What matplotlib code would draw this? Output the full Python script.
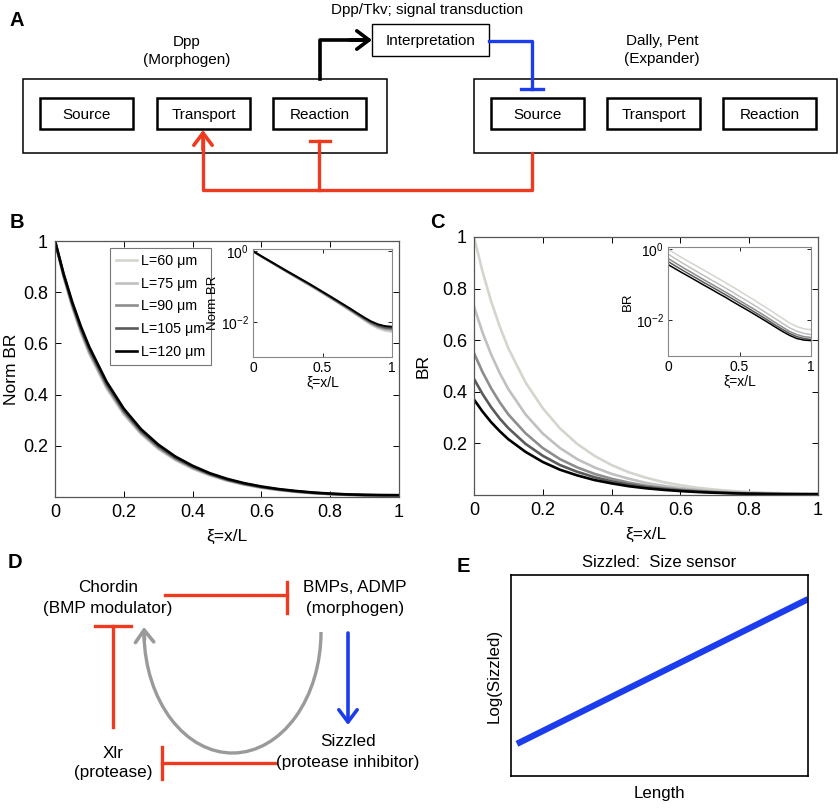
import matplotlib
matplotlib.use('Agg')
import matplotlib.pyplot as plt
from matplotlib.patches import Rectangle, Arc
from matplotlib.ticker import NullLocator

plt.rcParams['font.family'] = ['Liberation Sans', 'DejaVu Sans']
plt.rcParams['mathtext.fontset'] = 'custom'
plt.rcParams['mathtext.rm'] = 'Liberation Sans'
plt.rcParams['mathtext.it'] = 'Liberation Sans:italic'

# ---- data ----
xi = [0, 0.025, 0.05, 0.075, 0.1, 0.15, 0.2, 0.25, 0.3, 0.35, 0.4, 0.45, 0.5,
      0.55, 0.6, 0.65, 0.7, 0.75, 0.8, 0.85, 0.9, 0.95, 1.0]
lengths = [60, 75, 90, 105, 120]

# B: normalised BR
norm_br_60 = [1.0, 0.860, 0.742, 0.642, 0.558, 0.424, 0.322, 0.246, 0.188, 0.144, 0.110, 0.084, 0.064,
              0.048, 0.036, 0.027, 0.020, 0.0148, 0.0110, 0.0081, 0.0064, 0.0055, 0.0051]
norm_br_75 = [1.0, 0.862, 0.745, 0.646, 0.562, 0.428, 0.326, 0.249, 0.190, 0.146, 0.112, 0.086, 0.065,
              0.049, 0.037, 0.0278, 0.0207, 0.0153, 0.0114, 0.0085, 0.0068, 0.0059, 0.0055]
norm_br_90 = [1.0, 0.865, 0.750, 0.652, 0.568, 0.434, 0.331, 0.253, 0.194, 0.149, 0.115, 0.088, 0.066,
              0.050, 0.038, 0.0285, 0.0213, 0.0158, 0.0118, 0.0089, 0.0072, 0.0063, 0.0060]
norm_br_105 = [1.0, 0.868, 0.755, 0.658, 0.575, 0.441, 0.337, 0.258, 0.199, 0.153, 0.118, 0.090, 0.068,
               0.052, 0.039, 0.0295, 0.0222, 0.0165, 0.0124, 0.0095, 0.0077, 0.0068, 0.0065]
norm_br_120 = [1.0, 0.872, 0.762, 0.667, 0.585, 0.450, 0.345, 0.265, 0.205, 0.158, 0.122, 0.093, 0.071,
               0.054, 0.041, 0.031, 0.0235, 0.0175, 0.0132, 0.0102, 0.0084, 0.0075, 0.0072]

# C: BR
br_60 = [1.0, 0.865, 0.750, 0.652, 0.568, 0.436, 0.336, 0.258, 0.198, 0.152, 0.116, 0.088, 0.067,
         0.050, 0.038, 0.028, 0.021, 0.0155, 0.0115, 0.0085, 0.0067, 0.0058, 0.0055]
br_75 = [0.73, 0.629, 0.544, 0.472, 0.410, 0.312, 0.238, 0.182, 0.139, 0.107, 0.082, 0.063, 0.047,
         0.036, 0.027, 0.0203, 0.0151, 0.0112, 0.0083, 0.0062, 0.0050, 0.0043, 0.0040]
br_90 = [0.55, 0.476, 0.413, 0.359, 0.312, 0.239, 0.182, 0.139, 0.107, 0.082, 0.063, 0.048, 0.036,
         0.0275, 0.0209, 0.0157, 0.0117, 0.0087, 0.0065, 0.0049, 0.0040, 0.0035, 0.0033]
br_105 = [0.45, 0.391, 0.340, 0.296, 0.259, 0.198, 0.152, 0.116, 0.090, 0.069, 0.053, 0.0405, 0.0306,
          0.0234, 0.0176, 0.0133, 0.0100, 0.0074, 0.0056, 0.0043, 0.0035, 0.0031, 0.0029]
br_120 = [0.37, 0.323, 0.282, 0.247, 0.216, 0.167, 0.128, 0.098, 0.076, 0.058, 0.045, 0.034, 0.026,
          0.020, 0.0152, 0.0115, 0.0087, 0.0065, 0.0049, 0.0038, 0.0031, 0.0028, 0.0027]

# E: schematic line
e_length = [0.02, 1.0]
e_log_sizzled = [0.16, 0.88]

box_labels = ['Source', 'Transport', 'Reaction']

norm_sets = [norm_br_60, norm_br_75, norm_br_90, norm_br_105, norm_br_120]
br_sets = [br_60, br_75, br_90, br_105, br_120]
line_colors = ['#d4d6cd', '#c0c0c0', '#8d8d8d', '#5a5a5a', '#000000']

RED = '#ee3a1e'
BLUE = '#1c3ded'
GRAY = '#9a9a9a'

W, H = 840, 808


def rect(x0, y0, x1, y1):
    return [x0 / W, 1 - y1 / H, (x1 - x0) / W, (y1 - y0) / H]


fig = plt.figure(figsize=(W / 100, H / 100), dpi=100)

# pixel-space canvas for the diagrams
ax0 = fig.add_axes([0, 0, 1, 1])
ax0.set_xlim(0, W)
ax0.set_ylim(H, 0)
ax0.axis('off')

for lab, x, y in [('A', 17, 21), ('B', 17, 222), ('C', 437, 223), ('D', 15, 563), ('E', 463, 566)]:
    ax0.text(x, y, lab, fontsize=14.5, fontweight='bold', ha='center', va='center')

# ---- panel A ----
for x0, x1 in [(23, 387), (474, 837)]:
    ax0.add_patch(Rectangle((x0, 79), x1 - x0, 74, fill=False, lw=1.1, ec='k'))
for lefts in [(40, 157, 273), (491, 607, 723)]:
    for x, lab in zip(lefts, box_labels):
        ax0.add_patch(Rectangle((x, 98), 93, 31, fill=False, lw=1.8, ec='k'))
        ax0.text(x + 46.5, 115, lab, fontsize=11, ha='center', va='center')

ax0.add_patch(Rectangle((372, 24), 117, 32, fill=False, lw=1.0, ec='k'))
ax0.text(430.5, 41, 'Interpretation', fontsize=11, ha='center', va='center')
ax0.text(427, 10, 'Dpp/Tkv; signal transduction', fontsize=11, ha='center', va='center')
ax0.text(187, 42, 'Dpp', fontsize=11, ha='center', va='center')
ax0.text(187, 60, '(Morphogen)', fontsize=11, ha='center', va='center')
ax0.text(662, 41, 'Dally, Pent', fontsize=11, ha='center', va='center')
ax0.text(662, 59, '(Expander)', fontsize=11, ha='center', va='center')

arr = dict(lw=2.6, shrinkA=0, shrinkB=0, mutation_scale=22)
ax0.plot([320, 320, 366], [79, 40, 40], color='k', lw=2.6)
ax0.annotate('', xy=(372, 40), xytext=(350, 40),
             arrowprops=dict(arrowstyle='->,head_length=0.4,head_width=0.3', color='k', **arr))

ax0.plot([489, 532, 532], [41, 41, 89], color=BLUE, lw=2.4)
ax0.plot([521, 543], [89, 89], color=BLUE, lw=2.4)

ax0.plot([532, 532, 203, 203], [153, 190, 190, 140], color=RED, lw=2.4)
ax0.annotate('', xy=(203, 130), xytext=(203, 150),
             arrowprops=dict(arrowstyle='->,head_length=0.4,head_width=0.3', color=RED, **arr))
ax0.plot([319, 319], [190, 141], color=RED, lw=2.4)
ax0.plot([310, 330], [141, 141], color=RED, lw=2.4)

# ---- panel D ----
fs_d = 12.3
ax0.text(108, 588, 'Chordin', fontsize=fs_d, ha='center', va='center')
ax0.text(108, 608, '(BMP modulator)', fontsize=fs_d, ha='center', va='center')
ax0.text(355, 588, 'BMPs, ADMP', fontsize=fs_d, ha='center', va='center')
ax0.text(355, 608, '(morphogen)', fontsize=fs_d, ha='center', va='center')
ax0.text(113, 753, 'Xlr', fontsize=fs_d, ha='center', va='center')
ax0.text(113, 773, '(protease)', fontsize=fs_d, ha='center', va='center')
ax0.text(348, 742, 'Sizzled', fontsize=fs_d, ha='center', va='center')
ax0.text(348, 762, '(protease inhibitor)', fontsize=fs_d, ha='center', va='center')

ax0.plot([165, 287], [595, 595], color=RED, lw=2.4)
ax0.plot([287, 287], [582, 613], color=RED, lw=2.4)
ax0.plot([113, 113], [727, 626], color=RED, lw=2.4)
ax0.plot([95, 131], [626, 626], color=RED, lw=2.4)
ax0.plot([276, 162], [763, 763], color=RED, lw=2.4)
ax0.plot([162, 162], [747, 779], color=RED, lw=2.4)

ax0.annotate('', xy=(348, 725), xytext=(348, 633),
             arrowprops=dict(arrowstyle='->,head_length=0.4,head_width=0.3', color=BLUE, **arr))

ax0.add_patch(Arc((232.5, 632), 177, 242, theta1=0, theta2=178, color=GRAY, lw=2.4))
ax0.annotate('', xy=(144, 627), xytext=(144.5, 640),
             arrowprops=dict(arrowstyle='->,head_length=0.4,head_width=0.3', color=GRAY, **arr))


# ---- panels B and C ----
def style_main(ax):
    ax.set_xlim(0, 1)
    ax.set_ylim(0, 1)
    ax.set_xticks([0, 0.2, 0.4, 0.6, 0.8, 1])
    ax.set_xticklabels(['0', '0.2', '0.4', '0.6', '0.8', '1'])
    ax.set_yticks([0.2, 0.4, 0.6, 0.8, 1])
    ax.set_yticklabels(['0.2', '0.4', '0.6', '0.8', '1'])
    ax.tick_params(direction='in', top=True, right=True, labelsize=13, length=4, width=0.7, pad=5)
    for s in ax.spines.values():
        s.set_color('#555555')
        s.set_linewidth(0.9)
    ax.set_xlabel('ξ=x/L', fontsize=12.5, labelpad=6)


def style_inset(ax, ylab):
    ax.set_yscale('log')
    ax.set_xlim(0, 1)
    ax.set_ylim(1e-3, 1.15)
    ax.set_yticks([1e-2, 1])
    ax.yaxis.set_minor_locator(NullLocator())
    ax.set_xticks([0, 0.5, 1])
    ax.set_xticklabels(['0', '0.5', '1'])
    ax.tick_params(direction='in', top=True, right=True, labelsize=10, length=3, width=0.6, pad=3)
    for s in ax.spines.values():
        s.set_color('#888888')
        s.set_linewidth(0.8)
    ax.set_xlabel('ξ=x/L', fontsize=10, labelpad=0)
    ax.set_ylabel(ylab, fontsize=9.5, labelpad=1)


axB = fig.add_axes(rect(55, 241, 399, 497))
for L, vals, c in zip(lengths, norm_sets, line_colors):
    axB.plot(xi, vals, color=c, lw=1.9, label=f'L={L} μm')
style_main(axB)
axB.set_ylabel('Norm BR', fontsize=12.5, labelpad=3)
leg = axB.legend(loc='upper left', bbox_to_anchor=(110 / W, 1 - 248 / H), bbox_transform=fig.transFigure,
                 borderaxespad=0, fontsize=10.3, handlelength=1.5, handletextpad=0.3,
                 labelspacing=0.62, borderpad=0.4, fancybox=False, framealpha=1)
leg.get_frame().set_edgecolor('#777777')
leg.get_frame().set_linewidth(0.8)

axBi = fig.add_axes(rect(253, 249, 392, 357))
for vals, c in zip(norm_sets, line_colors):
    axBi.plot(xi, vals, color=c, lw=1.4)
style_inset(axBi, 'Norm BR')

axC = fig.add_axes(rect(474, 237, 818, 495))
for vals, c in zip(br_sets, line_colors):
    axC.plot(xi, vals, color=c, lw=1.9)
style_main(axC)
axC.set_ylabel('BR', fontsize=12.5, labelpad=8)

axCi = fig.add_axes(rect(668, 247, 811, 356))
for vals, c in zip(br_sets, line_colors):
    axCi.plot(xi, vals, color=c, lw=1.1)
style_inset(axCi, 'BR')

# ---- panel E ----
axE = fig.add_axes(rect(511, 575, 808, 776))
axE.plot(e_length, e_log_sizzled, color=BLUE, lw=4.5, solid_capstyle='butt')
axE.set_xlim(0, 1)
axE.set_ylim(0, 1)
axE.set_xticks([])
axE.set_yticks([])
for s in axE.spines.values():
    s.set_linewidth(1.2)
axE.set_title('Sizzled:  Size sensor', fontsize=12, pad=6)
axE.set_xlabel('Length', fontsize=12.2, labelpad=7)
axE.set_ylabel('Log(Sizzled)', fontsize=12.2, labelpad=7)

fig.savefig('out.png', dpi=100)
